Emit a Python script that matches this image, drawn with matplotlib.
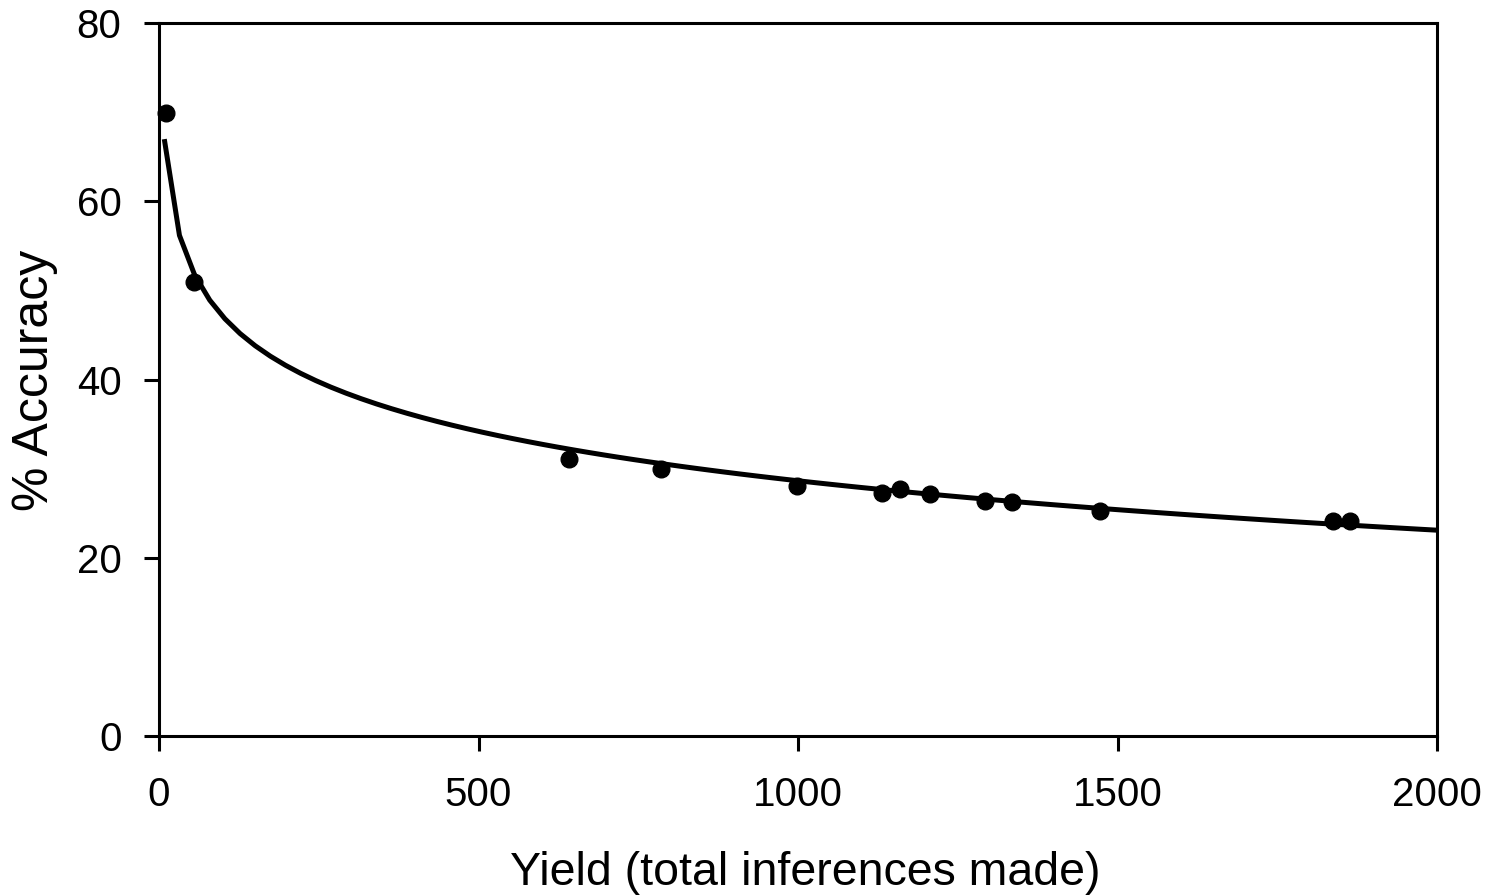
import numpy as np
import matplotlib
matplotlib.use("Agg")
import matplotlib.pyplot as plt

plt.rcParams['font.family'] = ['Liberation Sans', 'DejaVu Sans']

# Observed data points (yield, % accuracy)
yield_vals = [11, 54, 641, 786, 998, 1132, 1159, 1206, 1293, 1335, 1473, 1837, 1864]
accuracy_vals = [69.9, 50.9, 31.1, 30.0, 28.1, 27.3, 27.7, 27.1, 26.4, 26.3, 25.2, 24.1, 24.1]

# Logarithmic trendline y = a - b*ln(x), coefficients
trend_a = 83.9
trend_b = 8.0
trend_x_range = [8.3, 2000]

x_ticks = [0, 500, 1000, 1500, 2000]
y_ticks = [0, 20, 40, 60, 80]

fig = plt.figure(figsize=(14.93, 8.96), dpi=100)
ax = fig.add_axes([159/1493, 1-736/896, (1437-159)/1493, (736-23)/896])

tx = np.linspace(trend_x_range[0], trend_x_range[1], 85)
ty = trend_a - trend_b*np.log(tx)
ax.plot(tx, ty, color='black', lw=3.6, solid_capstyle='butt', zorder=2)
ax.plot(yield_vals, accuracy_vals, 'o', color='black', ms=12, zorder=3, clip_on=False)

ax.set_xlim(0, 2000)
ax.set_ylim(0, 80)
ax.set_xticks(x_ticks)
ax.set_yticks(y_ticks)
ax.tick_params(direction='out', length=11, width=2.2, labelsize=29, pad=16, colors='black')
ax.tick_params(axis='x', pad=18)
for s in ax.spines.values():
    s.set_linewidth(2.2)
    s.set_color('black')

fig.text(805/1493, 1-885/896, 'Yield (total inferences made)', fontsize=33.5,
         ha='center', va='baseline')
fig.text(35/1493, 1-380/896, '% Accuracy', fontsize=36, rotation=90,
         ha='center', va='center')

fig.savefig('out.png', dpi=100)
